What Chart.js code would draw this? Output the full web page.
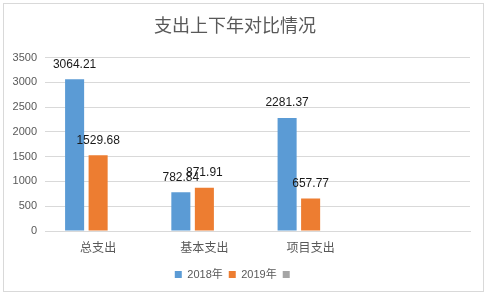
<!DOCTYPE html>
<html>
<head>
<meta charset="utf-8">
<script src="https://cdn.jsdelivr.net/npm/chart.js@4"></script>
<style>
  html, body { margin: 0; padding: 0; background: #fff; }
  #wrap { position: relative; width: 489px; height: 297px; }
</style>
</head>
<body>
<div id="wrap"><canvas id="chart" width="489" height="297"></canvas></div>
<script>
const categories = ["总支出", "基本支出", "项目支出", ""];
const values2018 = [3064.21, 782.84, 2281.37, null];
const values2019 = [1529.68, 871.91, 657.77, null];
const values3 = [null, null, null, null];
const seriesNames = ["2018年", "2019年", ""];

const FONT = "'Liberation Sans', 'Noto Sans CJK SC', sans-serif";

// outer frame like the office chart box
const framePlugin = {
  id: "frame",
  beforeDraw(chart) {
    const c = chart.ctx;
    c.save();
    c.fillStyle = "#fff";
    c.fillRect(0, 0, chart.width, chart.height);
    c.strokeStyle = "#d9d9d9";
    c.lineWidth = 1;
    c.strokeRect(3.5, 3.5, 480, 288);
    c.restore();
  },
};

// value labels above the bars
const valueLabels = {
  id: "valueLabels",
  afterDatasetsDraw(chart) {
    const c = chart.ctx;
    c.save();
    c.font = "12px " + FONT;
    c.fillStyle = "#1a1a1a";
    c.textAlign = "center";
    c.textBaseline = "middle";
    chart.data.datasets.forEach((ds, i) => {
      const meta = chart.getDatasetMeta(i);
      meta.data.forEach((bar, j) => {
        const v = ds.data[j];
        if (v == null) return;
        c.fillText(v.toFixed(2), bar.x, bar.y - 15);
      });
    });
    c.restore();
  },
};

new Chart(document.getElementById("chart"), {
  type: "bar",
  data: {
    labels: categories,
    datasets: [
      { label: seriesNames[0], data: values2018, backgroundColor: "#5b9bd5" },
      { label: seriesNames[1], data: values2019, backgroundColor: "#ed7d31" },
      { label: seriesNames[2], data: values3, backgroundColor: "#a5a5a5" },
    ],
  },
  options: {
    responsive: false,
    animation: false,
    categoryPercentage: 0.664,
    barPercentage: 0.81,
    layout: { padding: { left: 0, right: 19, top: 8, bottom: 7 } },
    scales: {
      x: {
        grid: { display: false },
        border: { color: "#d9d9d9" },
        ticks: { color: "#595959", font: { size: 12, family: FONT }, padding: 2 },
        afterFit(scale) { scale.height = 32; },
      },
      y: {
        min: 0,
        max: 3500,
        ticks: {
          stepSize: 500,
          color: "#595959",
          font: { size: 11, family: FONT },
          padding: 8,
          callback: (v) => String(v),
        },
        grid: { color: "#d9d9d9", drawTicks: false },
        border: { display: false },
        afterFit(scale) { scale.width = 45; },
      },
    },
    plugins: {
      title: {
        display: true,
        text: "支出上下年对比情况",
        color: "#595959",
        font: { size: 18, weight: "normal", family: FONT },
        padding: { top: 8, bottom: 20 },
      },
      legend: {
        position: "bottom",
        labels: {
          color: "#595959",
          font: { size: 11, family: FONT },
          boxWidth: 7,
          boxHeight: 7,
          padding: 6,
        },
      },
      tooltip: { enabled: false },
    },
  },
  plugins: [framePlugin, valueLabels],
});
</script>
</body>
</html>
